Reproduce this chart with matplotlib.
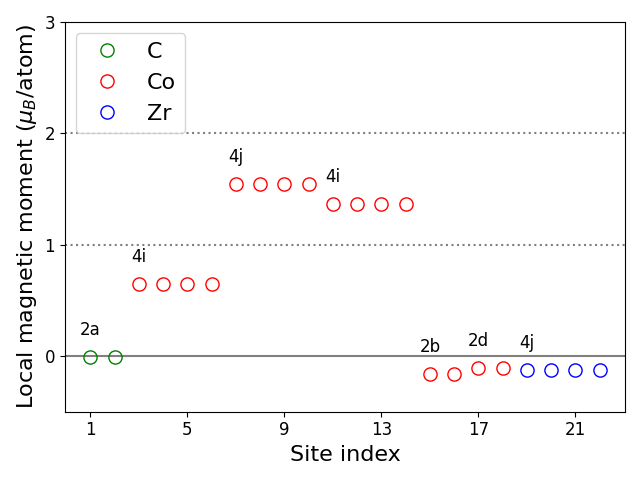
import matplotlib
matplotlib.use("Agg")
import matplotlib.pyplot as plt

c_sites = [1, 2]
c_moments = [-0.01, -0.01]
co_sites = [3, 4, 5, 6, 7, 8, 9, 10, 11, 12, 13, 14, 15, 16, 17, 18]
co_moments = [0.647, 0.647, 0.647, 0.647,
              1.545, 1.545, 1.545, 1.545,
              1.366, 1.366, 1.366, 1.366,
              -0.162, -0.162, -0.108, -0.108]
zr_sites = [19, 20, 21, 22]
zr_moments = [-0.126, -0.126, -0.126, -0.126]

wyckoff_labels = ['2a', '4i', '4j', '4i', '2b', '2d', '4j']
wyckoff_sites = [1, 3, 7, 11, 15, 17, 19]
wyckoff_values = [-0.01, 0.647, 1.545, 1.366, -0.162, -0.108, -0.126]

fig, ax = plt.subplots(figsize=(6.4, 4.8), dpi=100)

ax.axhline(0, color='gray', lw=1.5)
ax.axhline(1, color='gray', ls=':', lw=1.5)
ax.axhline(2, color='gray', ls=':', lw=1.5)

ax.plot(c_sites, c_moments, 'o', mfc='none', mec='green', ms=9.5, label='C')
ax.plot(co_sites, co_moments, 'o', mfc='none', mec='red', ms=9.5, label='Co')
ax.plot(zr_sites, zr_moments, 'o', mfc='none', mec='blue', ms=9.5, label='Zr')

for lab, x, y in zip(wyckoff_labels, wyckoff_sites, wyckoff_values):
    ax.text(x, y + 0.24, lab, ha='center', va='center', fontsize=12)

ax.set_ylim(-0.5, 3)
ax.set_xticks([1, 5, 9, 13, 17, 21])
ax.set_yticks([0, 1, 2, 3])
ax.tick_params(labelsize=12)
ax.set_xlabel('Site index', fontsize=16)
ax.set_ylabel(r'Local magnetic moment ($\mu_B$/atom)', fontsize=16)
ax.legend(loc='upper left', fontsize=16)

fig.tight_layout()
fig.savefig('out.png', dpi=100)
